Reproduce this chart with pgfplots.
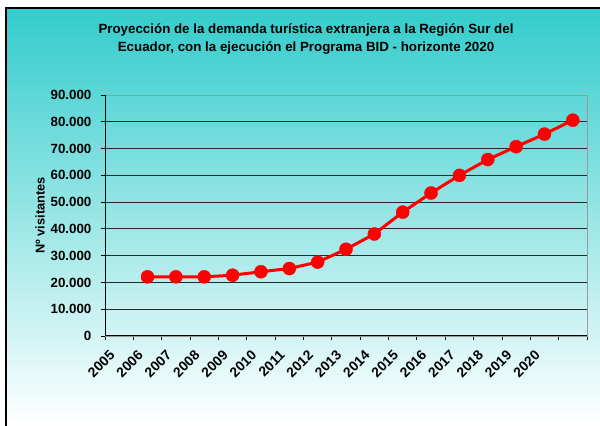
\documentclass[border=0pt]{standalone}
\usepackage{fontspec}
\setmainfont{Liberation Sans}
\usepackage{pgfplots}
\pgfplotsset{compat=1.18}
\definecolor{teal1}{RGB}{51,204,204}
\definecolor{gridc}{RGB}{40,40,40}
\begin{document}
\begin{tikzpicture}
\shade[top color=teal1, bottom color=white] (4.5pt,0pt) rectangle (455pt,312.75pt);
\draw[black, line width=0.8pt] (4.5pt,-5pt) -- (4.5pt,312.75pt) -- (455pt,312.75pt);
\node[align=center, font=\bfseries\fontsize{10}{13.5}\selectfont] at (229.5pt,289.5pt)
  {Proyección de la demanda turística extranjera a la Región Sur del\\Ecuador, con la ejecución el Programa BID - horizonte 2020};
\begin{axis}[
  at={(78.75pt,66.75pt)}, anchor=south west,
  scale only axis, width=361.5pt, height=180.75pt,
  xmin=0, xmax=17, ymin=0, ymax=90000,
  axis line style={draw=gray!80},
  xtick={0,...,17},
  xticklabels={2005,2006,2007,2008,2009,2010,2011,2012,2013,2014,2015,2016,2017,2018,2019,2020,,},
  ytick={0,10000,...,90000},
  xtick pos=bottom, ytick pos=left,
  tick align=outside, major tick length=3pt,
  tick style={black, line width=0.6pt},
  ymajorgrids, grid style={gridc, line width=0.75pt},
  scaled ticks=false,
  /pgf/number format/.cd, fixed, precision=0, 1000 sep={.}, assume math mode=true,
  /pgfplots/.cd,
  yticklabel style={font=\bfseries\fontsize{10}{11}\selectfont, inner sep=0pt, xshift=-7pt},
  xticklabel style={font=\bfseries\fontsize{10.4}{11}\selectfont, inner sep=0pt, xshift=5.5pt, yshift=-9.5pt, rotate=45, anchor=east},
  ylabel={Nº visitantes},
  ylabel style={font=\bfseries\fontsize{9.6}{10}\selectfont, at={(axis description cs:-0.135,0.5)}, anchor=center},
]
\addplot[red, line width=2.25pt, mark=*, mark size=4.9pt, mark options={solid, fill=red, draw=red, line width=0.3pt}]
coordinates {
(1.5,22100) (2.5,22100) (3.5,22100) (4.5,22700) (5.5,24000) (6.5,25200) (7.5,27600) (8.5,32400)
(9.5,38100) (10.5,46250) (11.5,53400) (12.5,60000) (13.5,65900) (14.5,70700) (15.5,75400) (16.5,80600)
};
\draw[black, line width=0.8pt] (rel axis cs:0,0) -- (rel axis cs:1,0);
\draw[black, line width=0.8pt] (rel axis cs:0,0) -- (rel axis cs:0,1);
\end{axis}
\pgfresetboundingbox
\useasboundingbox (0,0) rectangle (450pt,318.75pt);
\end{tikzpicture}
\end{document}
